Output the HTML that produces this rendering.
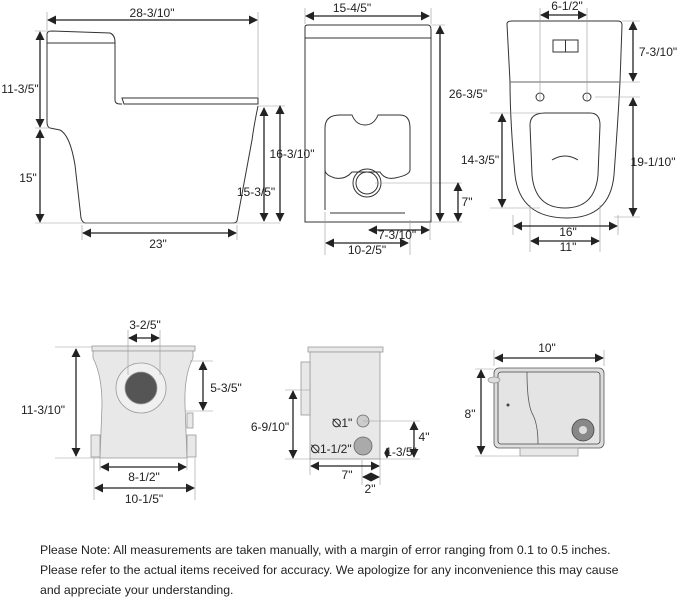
<!DOCTYPE html>
<html><head><style>
body{margin:0;background:#fff;width:679px;height:596px;overflow:hidden;font-family:"Liberation Sans",sans-serif}
svg text{font-family:"Liberation Sans",sans-serif;font-size:12px;fill:#222}
.note{position:absolute;left:40px;top:540px;font-size:12.3px;line-height:20px;color:#222;width:640px}
</style></head><body>
<svg width="679" height="596" style="position:absolute;left:0;top:0">
<defs><marker id="a" viewBox="0 0 10 10" refX="9" refY="5" markerWidth="7" markerHeight="7" orient="auto-start-reverse"><path d="M0,0L10,5L0,10z" fill="#222"/></marker></defs>
<g fill="none" stroke="#333" stroke-width="1">
<path d="M47,34 Q47,31 52,31 L110,33 Q115,35 115,42 L115,100 Q115,104 120,104 L122,104"/>
<path d="M47,43 L115,43"/>
<path d="M122,98 L258,98 L258,104 L124,104 Z"/>
<path d="M258,106 Q254,125 252,140 L237,221 Q236,223 233,223 L85,223 Q82,222 81,218 L75,165 Q70,135 60,130 L50,128 Q47,127 47,122 L47,34"/>
<path d="M305,27 Q305,25 308,25 L428,25 Q431,25 431,30 L431,222 L305,222 Z"/>
<path d="M305,38 L431,38"/>
<path d="M325,210 L325,128 Q325,115 340,115 L352,115 Q356,125 365,125 Q374,125 378,115 L400,115 Q410,115 410,128 L410,170 Q410,175 395,178 Q385,180 380,172 L352,172 Q345,180 335,178 Q325,175 325,170"/>
<circle cx="367" cy="183" r="14"/><circle cx="367" cy="183" r="11"/>
<path d="M330,213 L405,213"/>
<path d="M507,24 Q507,21 512,21 L618,21 Q622,21 622,25 L620,82 Q618,120 614,175 Q610,218 567,218 Q520,218 515,175 Q510,120 510,82 Z"/>
<path d="M510,82 L620,82"/>
<path d="M530,125 Q530,113 545,113 L590,113 Q600,113 600,125 L598,175 Q595,208 565,208 Q535,208 532,175 Z"/>
<path d="M552,160 Q565,152 578,160"/>
<rect x="553" y="40" width="25" height="12"/><path d="M565.5,40V52"/>
<circle cx="540" cy="97" r="4"/><circle cx="587" cy="97" r="4"/>
</g>
<g stroke="#999" stroke-width="0.6" fill="none">
<path d="M47,12V30M258,12V98M35,31H50M35,128H50M35,223H280M258,106H285M82,225V240M237,225V240"/>
<path d="M305,8V24M431,8V24M431,25H445M431,222H462M375,183H462M325,212V255M430,220V240M410,220V255"/>
<path d="M540,8V100M587,8V100M622,21H640M510,82H640M595,97H640M490,113H540M490,208H540M614,217H640M513,215V235M618,215V235M530,205V252M600,205V252"/>
</g>
<g stroke="#222" stroke-width="1.3" fill="none" marker-start="url(#a)" marker-end="url(#a)">
<path d="M48,20H257"/><path d="M40,32V127"/><path d="M40,130V222"/><path d="M280,106V221"/><path d="M264,108V221"/><path d="M83,233H236"/>
<path d="M306,16H429"/><path d="M440,26V221"/><path d="M458,183V221"/><path d="M369,230H429"/><path d="M326,243H408"/>
<path d="M541,15H586"/><path d="M633,22V81"/><path d="M633,98V216"/><path d="M502,114V207"/><path d="M514,226H617"/><path d="M531,241H599"/>
</g>
<g text-anchor="middle">
<text x="152" y="17">28-3/10"</text><text x="20" y="93">11-3/5"</text><text x="28" y="182">15"</text><text x="292" y="158">16-3/10"</text><text x="256" y="196">15-3/5"</text><text x="158" y="248">23"</text>
<text x="352" y="12">15-4/5"</text><text x="468" y="98">26-3/5"</text><text x="467" y="206">7"</text><text x="397" y="239">7-3/10"</text><text x="367" y="254">10-2/5"</text>
<text x="567" y="10">6-1/2"</text><text x="658" y="56">7-3/10"</text><text x="653" y="166">19-1/10"</text><text x="480" y="164">14-3/5"</text><text x="568" y="236">16"</text><text x="568" y="251">11"</text>
</g>
<!-- bottom row -->
<g fill="#e8e8e8" stroke="#999" stroke-width="0.8">
<rect x="92" y="346" width="103" height="5"/>
<path d="M93,351 L193,351 L193,358 Q184,375 185,405 L187,458 L100,458 L102,405 Q102,375 93,358 Z"/>
<circle cx="141" cy="388" r="25" fill="#f0f0f0"/>
<circle cx="141" cy="388" r="16" fill="#555"/>
<rect x="91" y="435" width="9" height="22"/><rect x="187" y="435" width="9" height="22"/><rect x="187" y="413" width="6" height="15"/>
<rect x="308" y="347" width="75" height="5"/>
<rect x="310" y="352" width="70" height="107"/>
<rect x="301" y="362" width="9" height="53"/>
<circle cx="363" cy="421" r="6" fill="#ccc" stroke="#666"/><circle cx="363" cy="446" r="9" fill="#aaa" stroke="#666"/>
<rect x="494" y="368" width="110" height="80" rx="5" fill="#ddd" stroke="#555"/>
<rect x="498" y="372" width="102" height="72" rx="3" fill="#e4e4e4" stroke="#444"/>
<rect x="520" y="448" width="58" height="8"/>
<circle cx="583" cy="430" r="11" fill="#888" stroke="#444"/>
<ellipse cx="494" cy="380" rx="6" ry="3" fill="#ddd"/>
</g>
<circle cx="583" cy="430" r="4" fill="#ddd"/>
<circle cx="508" cy="405" r="1.5" fill="#444"/>
<path d="M527,372 Q527,405 533,415 Q538,425 538,444" stroke="#555" fill="none" stroke-width="0.8"/>
<g stroke="#999" stroke-width="0.6" fill="none">
<path d="M55,347H92M55,458H100M128,330V375M160,330V375M190,361H213M185,411H213M94,458V500M195,458V500M100,458V470M187,458V470"/>
<path d="M285,390H310M285,459H420M363,421H420M310,459V475M380,459V485M362,460V485"/>
<path d="M494,350V366M604,350V366M475,369H494M475,456H520"/>
</g>
<g stroke="#222" stroke-width="1.3" fill="none" marker-start="url(#a)" marker-end="url(#a)">
<path d="M76,349V456"/><path d="M129,338H159"/><path d="M203,362V410"/><path d="M101,467H186"/><path d="M95,488H194"/>
<path d="M293,391V458"/><path d="M414,422V457"/><path d="M311,466H379"/><path d="M363,477H379"/>
<path d="M495,358H603"/><path d="M481,370V454"/>
</g>
<g stroke="#222" stroke-width="0.8" fill="none" marker-start="url(#a)" marker-end="url(#a)"><path d="M387,448V458"/></g>
<g text-anchor="middle">
<text x="145" y="329">3-2/5"</text><text x="43" y="414">11-3/10"</text><text x="226" y="392">5-3/5"</text><text x="144" y="481">8-1/2"</text><text x="144" y="503">10-1/5"</text>
<text x="270" y="431">6-9/10"</text><text x="424" y="441">4"</text><text x="347" y="479">7"</text><text x="370" y="493">2"</text>
<text x="342" y="427" font-size="11">⦰1"</text><text x="331" y="453" font-size="11">⦰1-1/2"</text><text x="401" y="456" font-size="6">1-3/5"</text>
<text x="547" y="352">10"</text><text x="470" y="418">8"</text>
</g>
</svg>
<div class="note">Please Note: All measurements are taken manually, with a margin of error ranging from 0.1 to 0.5 inches.<br>Please refer to the actual items received for accuracy. We apologize for any inconvenience this may cause<br>and appreciate your understanding.</div>
</body></html>
